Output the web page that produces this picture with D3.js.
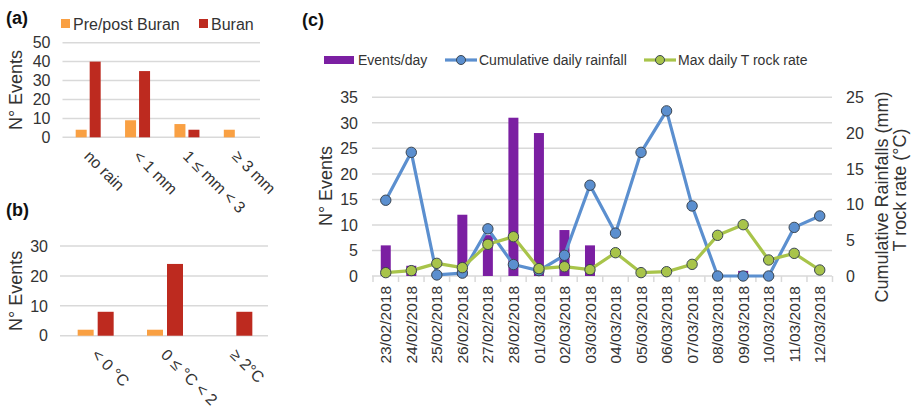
<!DOCTYPE html>
<html>
<head>
<meta charset="utf-8">
<script src="https://cdn.jsdelivr.net/npm/d3@7"></script>
<style>
    body { margin: 0; background: #fff; }
    text { font-family: "Liberation Sans", Arial, sans-serif; fill: #333; }
</style>
</head>
<body>
<div id="vis"></div>
<script>
// panel (a) data
var rainCats = ["no rain", "< 1 mm", "1 ≤ mm < 3", "≥ 3 mm"];
var rainPrePost = [4, 9, 7, 4];
var rainBuran = [40, 35, 4, 0];
var rainTicks = [0, 10, 20, 30, 40, 50];

// panel (b) data
var tempCats = ["< 0 °C", "0 ≤ °C < 2", "≥ 2°C"];
var tempPrePost = [2, 2, 0];
var tempBuran = [8, 24, 8];
var tempTicks = [0, 10, 20, 30];

// panel (c) data
var dates = ["23/02/2018", "24/02/2018", "25/02/2018", "26/02/2018", "27/02/2018",
    "28/02/2018", "01/03/2018", "02/03/2018", "03/03/2018", "04/03/2018",
    "05/03/2018", "06/03/2018", "07/03/2018", "08/03/2018", "09/03/2018",
    "10/03/2018", "11/03/2018", "12/03/2018"];
var eventsPerDay = [6, 2, 0, 12, 8, 31, 28, 9, 6, 0, 0, 0, 0, 0, 1, 0, 0, 0];
var rainfall = [10.6, 17.3, 0.15, 0.4, 6.6, 1.6, 0.75, 2.9, 12.7, 6.0,
    17.3, 23.1, 9.8, 0, 0, 0, 6.8, 8.4];
var rockRate = [0.47, 0.75, 1.77, 1.17, 4.43, 5.5, 1.03, 1.3, 0.89, 3.26,
    0.47, 0.6, 1.63, 5.69, 7.18, 2.24, 3.17, 0.84];
var eventTicks = [0, 5, 10, 15, 20, 25, 30, 35];
var rightTicks = [0, 5, 10, 15, 20, 25];

var colors = {
    prePost: "#f9a043",
    buran: "#bd2a1f",
    events: "#7b1fa2",
    rain: "#5b8fcf",
    rock: "#a8c44a",
    grid: "#d9d9d9",
    marker: "#3b4652"
};

var svg = d3.select("#vis").append("svg")
    .attr("width", 913)
    .attr("height", 407);

function gridLines(g, ticks, y, x0, x1)
{
    g.selectAll(".grid").data(ticks).enter()
        .append("line")
        .attr("x1", x0).attr("x2", x1)
        .attr("y1", function(d) { return y(d); })
        .attr("y2", function(d) { return y(d); })
        .attr("stroke", colors.grid)
        .attr("stroke-width", 1.5);
}

function tickLabels(g, ticks, y, x, anchor)
{
    g.selectAll(".tl").data(ticks).enter()
        .append("text")
        .attr("x", x)
        .attr("y", function(d) { return y(d); })
        .attr("dy", "0.36em")
        .attr("text-anchor", anchor)
        .style("font-size", "16px")
        .text(function(d) { return d; });
}

function vLabel(g, txt, x, y)
{
    g.append("text")
        .attr("transform", "translate(" + x + "," + y + ") rotate(-90)")
        .attr("text-anchor", "middle")
        .attr("dy", "0.36em")
        .style("font-size", "18px")
        .text(txt);
}

function panelTitle(txt, x, y)
{
    svg.append("text")
        .attr("x", x).attr("y", y)
        .style("font-size", "18px")
        .style("font-weight", "bold")
        .style("fill", "#111")
        .text(txt);
}

// small grouped bar panel (a) and (b)
function groupedPanel(cats, pre, bur, ticks, yMax, xr, yr, barW, gap)
{
    var g = svg.append("g");
    var x = d3.scaleBand().domain(cats).range(xr);
    var y = d3.scaleLinear().domain([0, yMax]).range(yr);

    gridLines(g, ticks, y, xr[0] - 1, xr[1] - 1);
    tickLabels(g, ticks, y, xr[0] - 13, "end");
    vLabel(g, "N° Events", 16, (yr[0] + yr[1]) / 2);

    var rows = cats.map(function(c, i) { return { cat: c, pre: pre[i], bur: bur[i] }; });

    g.selectAll(".pre").data(rows).enter()
        .append("rect")
        .attr("x", function(d) { return x(d.cat) + x.bandwidth() / 2 - gap / 2 - barW; })
        .attr("y", function(d) { return y(d.pre); })
        .attr("width", barW)
        .attr("height", function(d) { return y(0) - y(d.pre); })
        .attr("fill", colors.prePost);

    g.selectAll(".bur").data(rows).enter()
        .append("rect")
        .attr("x", function(d) { return x(d.cat) + x.bandwidth() / 2 + gap / 2; })
        .attr("y", function(d) { return y(d.bur); })
        .attr("width", barW)
        .attr("height", function(d) { return y(0) - y(d.bur); })
        .attr("fill", colors.buran);

    g.selectAll(".xl").data(cats).enter()
        .append("text")
        .attr("transform", function(d) {
            return "translate(" + (x(d) + x.bandwidth() / 2 - 5) + "," + (yr[0] + 20) + ") rotate(45)";
        })
        .style("font-size", "16px")
        .text(function(d) { return d; });
}

// panel (a)
panelTitle("(a)", 6, 24);
groupedPanel(rainCats, rainPrePost, rainBuran, rainTicks, 50, [63.5, 261], [137.3, 42.7], 11, 3);

var legA = svg.append("g");
var legItems = [
    { label: "Pre/post Buran", color: colors.prePost, x: 61 },
    { label: "Buran", color: colors.buran, x: 199 }
];
legA.selectAll("rect").data(legItems).enter()
    .append("rect")
    .attr("x", function(d) { return d.x; })
    .attr("y", 19)
    .attr("width", 9).attr("height", 9)
    .attr("fill", function(d) { return d.color; });
legA.selectAll("text").data(legItems).enter()
    .append("text")
    .attr("x", function(d) { return d.x + 12; })
    .attr("y", 24)
    .attr("dy", "0.36em")
    .style("font-size", "16px")
    .text(function(d) { return d.label; });

// panel (b)
panelTitle("(b)", 6, 216);
groupedPanel(tempCats, tempPrePost, tempBuran, tempTicks, 30, [61, 269], [335.7, 246], 16, 4);

// panel (c)
panelTitle("(c)", 302, 26);

var gc = svg.append("g");
var xc = d3.scaleBand().domain(dates).range([373, 832.5]);
var yl = d3.scaleLinear().domain([0, 35]).range([276, 97.3]);
var yr = d3.scaleLinear().domain([0, 25]).range([276, 97.3]);

gridLines(gc, eventTicks, yl, 372, 832);
tickLabels(gc, eventTicks, yl, 358, "end");
tickLabels(gc, rightTicks, yr, 846, "start");
vLabel(gc, "N° Events", 326, 186);

gc.append("text")
    .attr("transform", "translate(882,197) rotate(-90)")
    .attr("text-anchor", "middle")
    .attr("dy", "0.36em")
    .style("font-size", "18px")
    .text("Cumulative Rainfalls (mm)");
gc.append("text")
    .attr("transform", "translate(900,190) rotate(-90)")
    .attr("text-anchor", "middle")
    .attr("dy", "0.36em")
    .style("font-size", "18px")
    .text("T rock rate (°C)");

// x axis ticks between categories
var bounds = dates.map(function(d) { return xc(d); }).concat([xc.range()[1]]);
gc.selectAll(".xt").data(bounds).enter()
    .append("line")
    .attr("x1", function(d) { return d; })
    .attr("x2", function(d) { return d; })
    .attr("y1", 276).attr("y2", 282)
    .attr("stroke", colors.grid)
    .attr("stroke-width", 1.5);

gc.selectAll(".xl").data(dates).enter()
    .append("text")
    .attr("transform", function(d) {
        return "translate(" + (xc(d) + xc.bandwidth() / 2) + ",286) rotate(-90)";
    })
    .attr("text-anchor", "end")
    .attr("dy", "0.36em")
    .style("font-size", "15.5px")
    .text(function(d) { return d; });

// bars
var barW = 10;
gc.selectAll(".ev").data(dates).enter()
    .append("rect")
    .attr("x", function(d) { return xc(d) + xc.bandwidth() / 2 - barW / 2; })
    .attr("y", function(d, i) { return yl(eventsPerDay[i]); })
    .attr("width", barW)
    .attr("height", function(d, i) { return yl(0) - yl(eventsPerDay[i]); })
    .attr("fill", colors.events);

// lines with markers
function lineSeries(values, color)
{
    var pts = dates.map(function(d, i) { return [xc(d) + xc.bandwidth() / 2, yr(values[i])]; });
    gc.append("path")
        .attr("d", d3.line()(pts))
        .attr("fill", "none")
        .attr("stroke", color)
        .attr("stroke-width", 3.2)
        .attr("stroke-linejoin", "round");
    gc.selectAll(null).data(pts).enter()
        .append("circle")
        .attr("cx", function(d) { return d[0]; })
        .attr("cy", function(d) { return d[1]; })
        .attr("r", 5.2)
        .attr("fill", color)
        .attr("stroke", colors.marker)
        .attr("stroke-width", 1);
}
lineSeries(rainfall, colors.rain);
lineSeries(rockRate, colors.rock);

// legend (c)
var legC = svg.append("g");
legC.append("rect")
    .attr("x", 324).attr("y", 56)
    .attr("width", 30).attr("height", 8)
    .attr("fill", colors.events);
legC.append("text")
    .attr("x", 358).attr("y", 60).attr("dy", "0.36em")
    .style("font-size", "14px")
    .text("Events/day");

var lineLeg = [
    { label: "Cumulative daily rainfall", color: colors.rain, x: 445 },
    { label: "Max daily T rock rate", color: colors.rock, x: 644 }
];
lineLeg.forEach(function(d)
{
    legC.append("line")
        .attr("x1", d.x).attr("x2", d.x + 32)
        .attr("y1", 60).attr("y2", 60)
        .attr("stroke", d.color)
        .attr("stroke-width", 3.2);
    legC.append("circle")
        .attr("cx", d.x + 16).attr("cy", 60).attr("r", 4.5)
        .attr("fill", d.color)
        .attr("stroke", colors.marker)
        .attr("stroke-width", 1);
    legC.append("text")
        .attr("x", d.x + 34).attr("y", 60).attr("dy", "0.36em")
        .style("font-size", "14px")
        .text(d.label);
});
</script>
</body>
</html>
